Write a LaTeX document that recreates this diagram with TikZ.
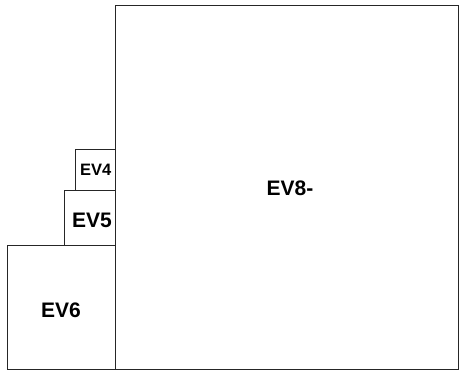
\documentclass[tikz,border=0pt]{standalone}
\usepackage{fontspec}
\setmainfont{Liberation Sans}
\begin{document}
\begin{tikzpicture}[x=1pt,y=-1pt,
  evbox/.style={draw=black!85,line width=0.8pt},
  evlabel/.style={font=\bfseries\fontsize{21}{24}\selectfont,inner sep=0pt},
  evsmall/.style={font=\bfseries\fontsize{16.5}{18}\selectfont,inner sep=0pt}]
\useasboundingbox (0,0) rectangle (459,372);
\draw[evbox] (115.3,5.3) rectangle (458,369.3);
\draw[evbox] (7.3,245.7) rectangle (115.3,369.3);
\draw[evbox] (64.7,190) rectangle (115.3,245.7);
\draw[evbox] (75.3,149) rectangle (115.3,190);
\node[evlabel] (ev8) at (290,188) {EV8-};
\node[evlabel] (ev6) at (61,310) {EV6};
\node[evlabel] (ev5) at (92,220) {EV5};
\node[evsmall] (ev4) at (95.7,169.5) {EV4};
\end{tikzpicture}
\end{document}
